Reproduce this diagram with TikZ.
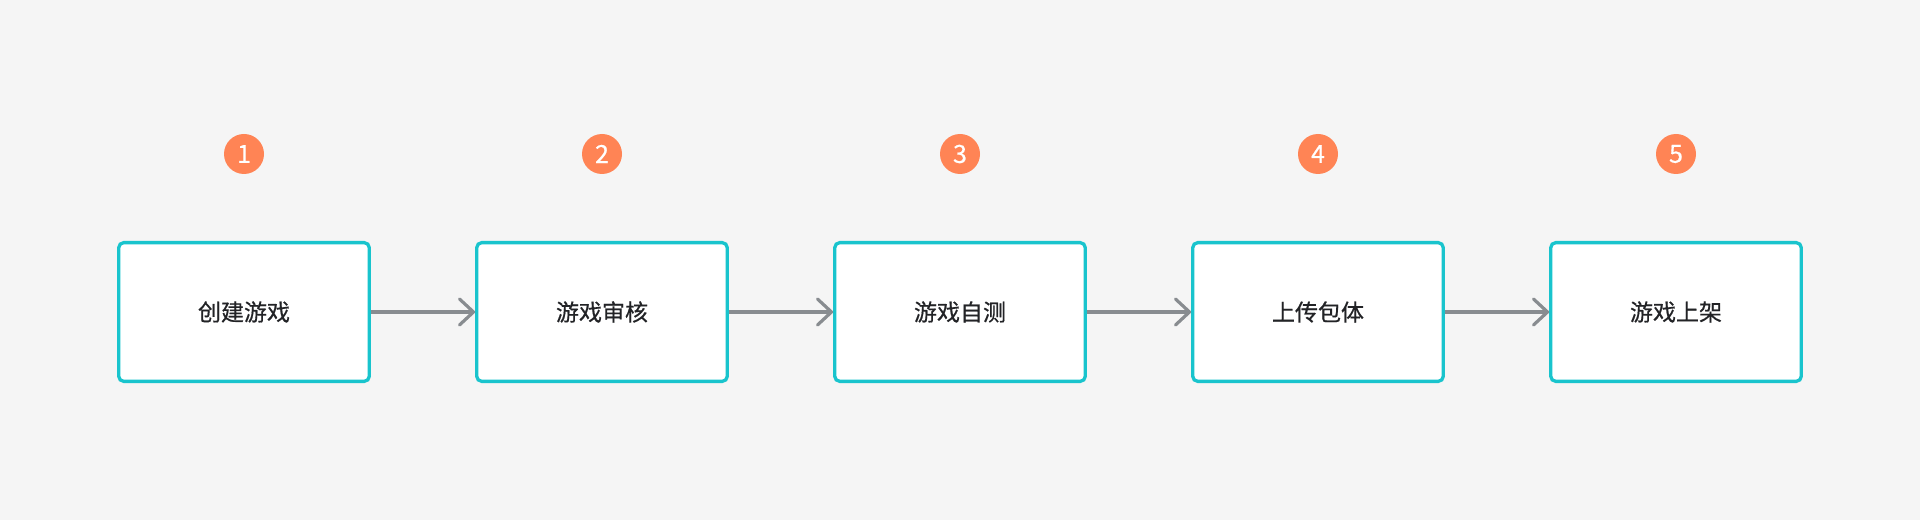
\documentclass[tikz,border=0pt]{standalone}
\usepackage{fontspec}
\setmainfont{Noto Sans CJK SC}
\newfontfamily\labelfont{Noto Sans CJK SC}[FakeBold=0.6]
\usepackage{xcolor}
\usetikzlibrary{positioning, arrows.meta}
\definecolor{bgGray}{HTML}{F5F5F5}
\definecolor{boxTeal}{HTML}{19C4CD}
\definecolor{badgeOrange}{HTML}{FF8455}
\definecolor{arrowGray}{HTML}{888C90}
\definecolor{labelDark}{HTML}{222326}
\tikzset{
	stepbox/.style={draw=boxTeal, line width=3.3pt, fill=white, rounded corners=5pt,
		minimum width=250.5pt, minimum height=138.7pt, inner sep=0pt,
		font=\labelfont\fontsize{23pt}{26pt}\selectfont, text=labelDark},
	badge/.style={circle, fill=badgeOrange, minimum size=40pt, inner sep=0pt,
		font=\labelfont\fontsize{25pt}{28pt}\selectfont, text=white},
	flow/.style={draw=arrowGray, line width=3.2pt,
		-{Straight Barb[length=14pt, width=26pt, round]}}
}
\begin{document}
\begin{tikzpicture}[x=1pt, y=1pt]
			% Background
			\fill[bgGray] (0,0) rectangle (1920,520);
			\useasboundingbox (0,0) rectangle (1920,520);
			% Process steps
			\node[stepbox] (create) at (244,208) {创建游戏};
			\node[stepbox] (review) at (602,208) {游戏审核};
			\node[stepbox] (selftest) at (960,208) {游戏自测};
			\node[stepbox] (upload) at (1318,208) {上传包体};
			\node[stepbox] (release) at (1676,208) {游戏上架};
			% Step numbers
			\node[badge] (n1) at (244,366) {1};
			\node[badge] (n2) at (602,366) {2};
			\node[badge] (n3) at (960,366) {3};
			\node[badge] (n4) at (1318,366) {4};
			\node[badge] (n5) at (1676,366) {5};
			% Arrows
			\draw[flow] (create) -- (review);
			\draw[flow] (review) -- (selftest);
			\draw[flow] (selftest) -- (upload);
			\draw[flow] (upload) -- (release);
		\end{tikzpicture}
\end{document}
